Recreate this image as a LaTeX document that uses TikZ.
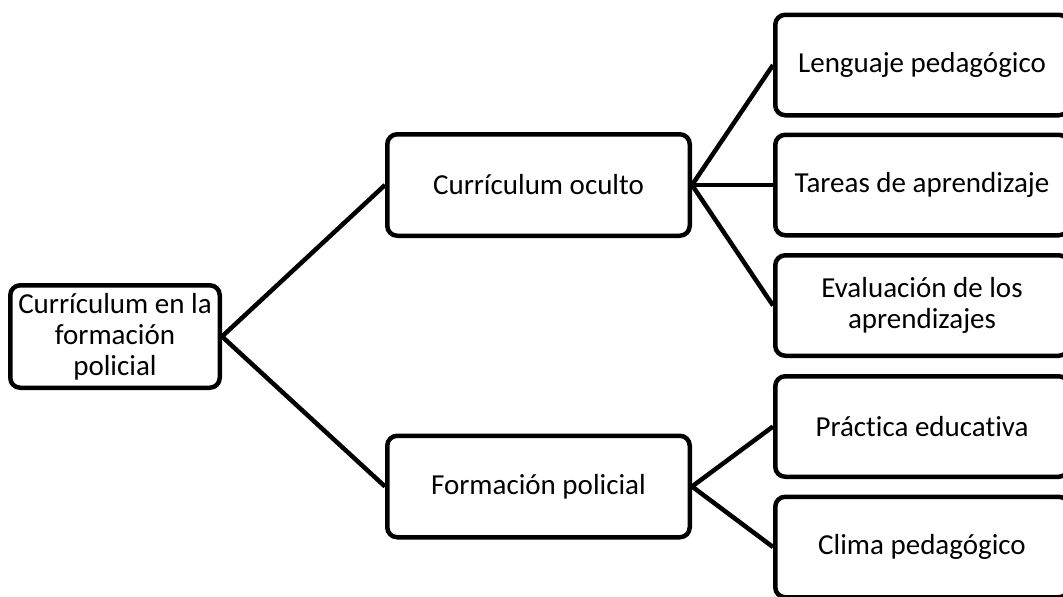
\documentclass[tikz,border=0pt]{standalone}
\usepackage{fontspec}
\setmainfont{Carlito}[Ligatures={NoCommon}]
\begin{document}
\begin{tikzpicture}[x=1pt,y=-1pt,
  box/.style={draw=black, line width=4.5pt, rounded corners=10pt, fill=white,
    align=center, inner sep=2pt, font=\fontsize{29}{31}\selectfont},
  rootbox/.style={box, minimum width=209.5pt, minimum height=102.5pt},
  midbox/.style={box, minimum width=302.5pt, minimum height=101.5pt},
  leafbox/.style={box, minimum width=293.5pt, minimum height=100.5pt},
  link/.style={line width=4.5pt, draw=black}]
\useasboundingbox (0,0) rectangle (1063,597);
\clip (0,0) rectangle (1063,597);
\node[rootbox] (root) at (115,336.5) {Currículum en la\\formación\\policial};
\node[midbox] (co) at (538.5,185) {Currículum oculto};
\node[midbox] (fp) at (538.5,486.5) {Formación policial};
\node[leafbox] (lp) at (922,65) {Lenguaje pedagógico};
\node[leafbox] (ta) at (922,185) {Tareas de aprendizaje};
\node[leafbox] (ev) at (922,305.5) {Evaluación de los\\aprendizajes};
\node[leafbox] (pe) at (922,426.5) {Práctica educativa};
\node[leafbox] (cp) at (922,547) {Clima pedagógico};
\draw[link] (root.east) -- (co.west);
\draw[link] (root.east) -- (fp.west);
\draw[link] (co.east) -- (lp.west);
\draw[link] (co.east) -- (ta.west);
\draw[link] (co.east) -- (ev.west);
\draw[link] (fp.east) -- (pe.west);
\draw[link] (fp.east) -- (cp.west);
\end{tikzpicture}
\end{document}
